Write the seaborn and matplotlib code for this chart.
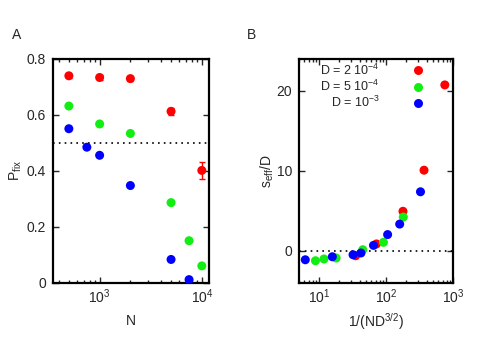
import matplotlib
matplotlib.use("Agg")
import matplotlib.pyplot as plt
import numpy as np
import pandas as pd
import seaborn as sns
from matplotlib.ticker import LogLocator, NullFormatter, FixedLocator

# panel A: fixation probability vs N
a_red_N = [500, 1000, 2000, 5000, 10000]
a_red_P = [0.740, 0.734, 0.730, 0.613, 0.402]
a_red_err = [0.008, 0.008, 0.008, 0.012, 0.03]
a_green_N = [500, 1000, 2000, 5000, 7500, 10000]
a_green_P = [0.632, 0.568, 0.534, 0.287, 0.151, 0.061]
a_blue_N = [500, 750, 1000, 2000, 5000, 7500]
a_blue_P = [0.551, 0.485, 0.456, 0.348, 0.084, 0.012]

# panel B: s_eff/D vs 1/(N D^3/2)
b_red_x = [750, 367, 178, 71.6, 35]
b_red_y = [20.76, 10.1, 4.96, 0.88, -0.6]
b_green_x = [180, 91, 44.7, 17.9, 11.8, 8.8]
b_green_y = [4.24, 1.08, 0.16, -0.88, -1.0, -1.22]
b_blue_x = [325, 159, 105, 64.6, 42, 32, 15.7, 6.2]
b_blue_y = [7.4, 3.36, 2.05, 0.7, -0.25, -0.47, -0.72, -1.1]

labels = ["D = 2 10$^{-4}$", "D = 5 10$^{-4}$", "D = 10$^{-3}$"]
colors = ["#ff0000", "#11ee11", "#0000ff"]

sns.set_style("white")
plt.rcParams["font.family"] = ["Liberation Sans", "DejaVu Sans"]
plt.rcParams["mathtext.default"] = "regular"
plt.rcParams["font.size"] = 10

dfa = pd.DataFrame({
    "N": a_red_N + a_green_N + a_blue_N,
    "P": a_red_P + a_green_P + a_blue_P,
    "D": [labels[0]] * len(a_red_N) + [labels[1]] * len(a_green_N) + [labels[2]] * len(a_blue_N),
})
dfb = pd.DataFrame({
    "x": b_red_x + b_green_x + b_blue_x,
    "y": b_red_y + b_green_y + b_blue_y,
    "D": [labels[0]] * len(b_red_x) + [labels[1]] * len(b_green_x) + [labels[2]] * len(b_blue_x),
})
pal = dict(zip(labels, colors))

fig = plt.figure(figsize=(4.91, 3.43), dpi=100)
axA = fig.add_axes([0.108, 0.175, 0.318, 0.653])
axB = fig.add_axes([0.609, 0.175, 0.314, 0.653])

axA.errorbar(a_red_N, a_red_P, yerr=a_red_err, fmt="none", ecolor=colors[0],
             elinewidth=1, capsize=2, zorder=2)
sns.scatterplot(data=dfa, x="N", y="P", hue="D", palette=pal, s=42,
                edgecolor="none", legend=False, ax=axA, zorder=3)
axA.axhline(0.5, color="black", ls=(0, (1, 2.5)), lw=1.2, zorder=1)
axA.set_xscale("log")
axA.set_xlim(350, 11800)
axA.set_ylim(0, 0.8)
axA.yaxis.set_major_locator(FixedLocator([0, 0.2, 0.4, 0.6, 0.8]))
axA.set_yticklabels(["0", "0.2", "0.4", "0.6", "0.8"])
axA.set_xlabel("N", labelpad=6)
axA.set_ylabel("P$_{fix}$", labelpad=2)

sns.scatterplot(data=dfb, x="x", y="y", hue="D", palette=pal, s=42,
                edgecolor="none", ax=axB, zorder=3)
axB.axhline(0, color="black", ls=(0, (1, 2.5)), lw=1.2, zorder=1)
axB.set_xscale("log")
axB.set_xlim(5, 1000)
axB.set_ylim(-4, 24)
axB.yaxis.set_major_locator(FixedLocator([0, 10, 20]))
axB.set_xlabel("1/(ND$^{3/2}$)", labelpad=4)
axB.set_ylabel("s$_{eff}$/D", labelpad=0)
leg = axB.legend(loc="upper right", bbox_to_anchor=(0.855, 0.985), frameon=False,
                 markerfirst=False, handletextpad=2.1, labelspacing=0.1,
                 borderaxespad=0, borderpad=0, fontsize=9, markerscale=1.0)

for ax in (axA, axB):
    ax.xaxis.set_major_locator(LogLocator(base=10))
    ax.xaxis.set_minor_locator(LogLocator(base=10, subs=np.arange(2, 10)))
    ax.xaxis.set_minor_formatter(NullFormatter())
    ax.tick_params(which="both", direction="in", top=True, right=True,
                   bottom=True, left=True, labelsize=10)
    ax.tick_params(axis="x", pad=3)
    ax.tick_params(axis="y", pad=5)
    ax.tick_params(which="major", length=4, width=1)
    ax.tick_params(which="minor", length=2, width=1)
    for sp in ax.spines.values():
        sp.set_linewidth(1.6)
        sp.set_color("black")

fig.text(0.024, 0.885, "A", fontsize=10)
fig.text(0.503, 0.885, "B", fontsize=10)

fig.savefig("out.png", dpi=100)
